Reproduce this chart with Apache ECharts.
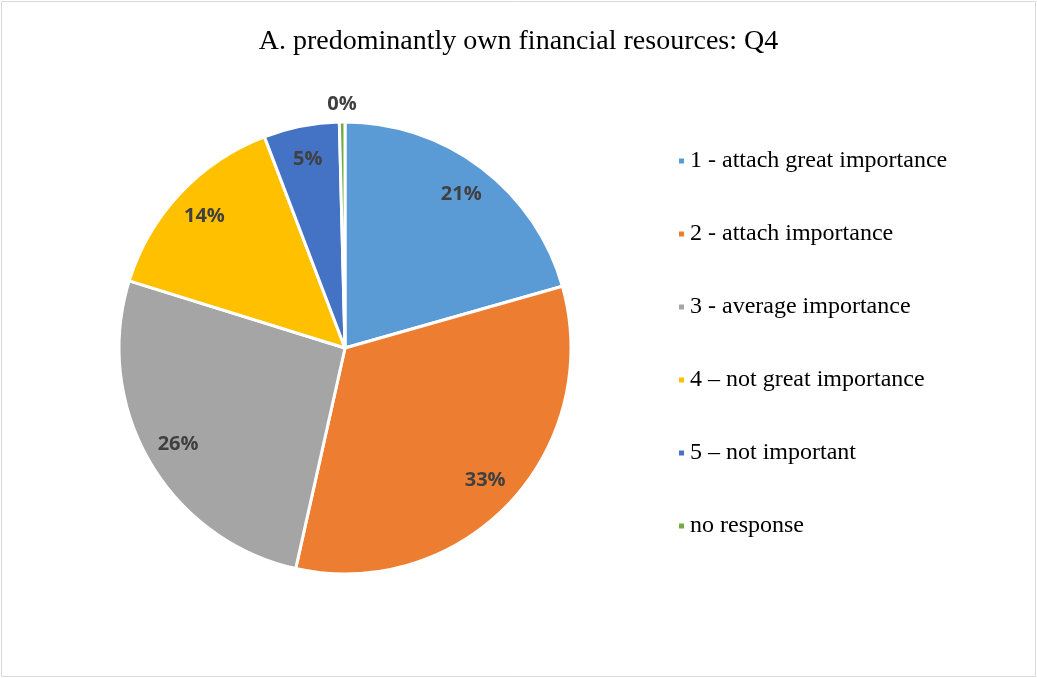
<!DOCTYPE html>
<html><head><meta charset="utf-8">
<script src="https://cdn.jsdelivr.net/npm/echarts@6/dist/echarts.min.js"></script>
<style>
html,body{margin:0;padding:0;background:#fff;}
#c{width:1037px;height:678px;}
</style></head>
<body><div id="c"></div>
<script>
const titleText = "A. predominantly own financial resources: Q4";
const categories = ["1 - attach great importance","2 - attach importance","3 - average importance","4 \u2013 not great importance","5 \u2013 not important","no response"];
const values = [20.6, 32.9, 26.3, 14.4, 5.4, 0.4];
const colors = ["#5b9bd5","#ed7d31","#a5a5a5","#ffc000","#4472c4","#70ad47"];

const chart = echarts.init(document.getElementById('c'));
const center = [345, 348];
const R = 226;
const last = categories.length - 1;
const data = categories.map((n,i)=>({name:n, value:values[i]}));
const innerLabelData = categories.map((n,i)=>({name:n, value:values[i], label:{show:i!==last}}));
const outerLabelData = categories.map((n,i)=>({name:n, value:values[i], label:{show:i===last}}));
const labelStyle = {position:'inside', formatter:p=>Math.round(p.value)+'%',
  fontFamily:'Open Sans', fontWeight:'bold', fontSize:20, color:'#404040'};
chart.setOption({
  animation:false,
  color: colors,
  title:{text:titleText, left:'center', top:23,
    textStyle:{fontFamily:'Liberation Serif', fontWeight:'normal', fontSize:28, lineHeight:28, color:'#000'}},
  legend:{orient:'vertical', left:672, top:144, itemGap:49, itemWidth:7, itemHeight:7, icon:'rect',
    data: categories,
    textStyle:{fontFamily:'Liberation Serif', fontSize:24, lineHeight:24, color:'#000', padding:[0,0,0,0]}},
  graphic:[{type:'rect', shape:{x:1.5,y:1.5,width:1034,height:675}, style:{fill:null, stroke:'#d9d9d9', lineWidth:1}, silent:true}],
  series:[
    {type:'pie', center:center, radius:[0,R], startAngle:90, clockwise:true, data:data,
     itemStyle:{borderColor:'#fff', borderWidth:3}, label:{show:false}, labelLine:{show:false}, silent:true},
    {type:'pie', center:center, radius:[R*0.68,R], startAngle:90, clockwise:true, data:innerLabelData,
     itemStyle:{color:'rgba(0,0,0,0)', borderWidth:0}, silent:true, legendHoverLink:false,
     label:labelStyle, labelLine:{show:false}},
    {type:'pie', center:center, radius:[R+2,R+28], startAngle:90, clockwise:true, data:outerLabelData,
     itemStyle:{color:'rgba(0,0,0,0)', borderWidth:0}, silent:true, legendHoverLink:false,
     label:labelStyle, labelLine:{show:false}}
  ]
});
</script></body></html>
